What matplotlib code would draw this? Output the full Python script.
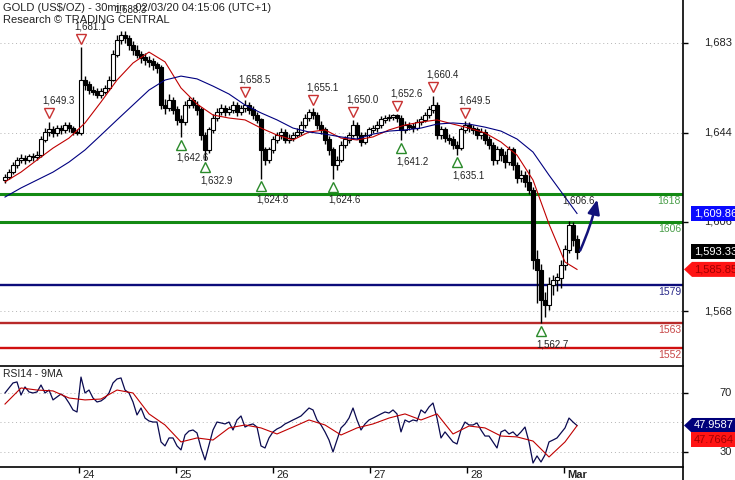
import numpy as np
import matplotlib.pyplot as plt
from matplotlib import transforms
from matplotlib.patches import Polygon, FancyArrowPatch
from matplotlib.lines import Line2D

plt.rcParams['font.family'] = ['Liberation Sans', 'DejaVu Sans']

W, H = 735, 480

# day axis with the weekend taken out: 29 stands for Mon 2 March
DAY0 = 23.2376          # first bar
BAR_DAYS = 4 / 97       # one bar on the compressed axis
OPEN_FIRST = 1624.0

closes = [1625.5, 1627.6, 1630.6, 1632.8, 1633.6, 1632.8, 1634.1, 1634.1, 1634.9, 1641.4, 1644.8, 1645.7,
          1644.4, 1646.5, 1645.7, 1647.8, 1646.5, 1644.8, 1644.4, 1667.1, 1665.0, 1662.8, 1662.0, 1660.7,
          1662.0, 1663.7, 1667.1, 1677.9, 1684.3, 1686.4, 1685.1, 1682.1, 1680.0, 1677.9, 1676.6, 1675.7,
          1674.9, 1673.6, 1672.3, 1656.4, 1655.1, 1658.5, 1654.3, 1650.0, 1649.1, 1656.4, 1658.5, 1656.4,
          1654.3, 1643.5, 1637.1, 1645.7, 1650.8, 1653.4, 1655.1, 1653.4, 1654.3, 1656.4, 1653.4, 1655.1,
          1656.0, 1654.3, 1652.1, 1650.0, 1637.1, 1632.8, 1637.1, 1641.4, 1643.5, 1644.8, 1641.4, 1642.2,
          1643.5, 1644.8, 1647.8, 1650.8, 1653.4, 1652.1, 1647.8, 1645.7, 1641.4, 1637.1, 1630.6, 1632.8,
          1639.2, 1641.4, 1643.5, 1647.8, 1643.5, 1640.5, 1643.5, 1645.7, 1646.5, 1647.8, 1650.0, 1650.8,
          1651.2, 1652.1, 1650.8, 1645.7, 1647.8, 1647.0, 1646.5, 1649.1, 1650.0, 1652.1, 1654.3, 1656.4,
          1643.5, 1645.7, 1642.2, 1641.4, 1639.2, 1638.0, 1645.7, 1647.8, 1646.5, 1645.7, 1643.5, 1644.8,
          1641.4, 1639.2, 1632.8, 1637.1, 1634.9, 1631.9, 1637.1, 1630.6, 1625.1, 1626.3, 1623.3, 1619.9,
          1589.9, 1585.6, 1572.7, 1570.6, 1579.2, 1581.3, 1582.2, 1587.7, 1594.2, 1604.9, 1598.5, 1593.33]

highs = [1627.0, 1629.0, 1632.0, 1634.0, 1635.5, 1635.0, 1635.5, 1636.0, 1636.5, 1643.0, 1646.5, 1649.3,
         1647.5, 1648.0, 1648.0, 1649.0, 1649.0, 1647.5, 1646.0, 1681.1, 1669.0, 1666.5, 1664.5, 1663.5,
         1663.5, 1665.0, 1669.0, 1680.0, 1686.5, 1688.3, 1688.0, 1686.5, 1684.0, 1682.0, 1679.5, 1678.5,
         1677.5, 1676.5, 1675.0, 1673.5, 1659.0, 1661.0, 1660.0, 1656.0, 1652.0, 1658.0, 1660.0, 1660.0,
         1658.0, 1655.5, 1645.0, 1647.0, 1652.5, 1655.0, 1657.0, 1656.5, 1656.0, 1658.0, 1657.5, 1656.5,
         1658.5, 1657.5, 1656.0, 1653.5, 1651.0, 1638.5, 1638.5, 1643.0, 1645.0, 1646.5, 1646.0, 1644.0,
         1645.0, 1646.5, 1649.5, 1652.5, 1654.5, 1655.1, 1653.5, 1649.5, 1647.0, 1643.0, 1638.5, 1634.5,
         1641.0, 1643.0, 1645.0, 1650.0, 1649.0, 1645.0, 1645.0, 1647.0, 1648.0, 1649.5, 1651.5, 1652.0,
         1652.5, 1652.5, 1652.6, 1652.0, 1649.5, 1649.0, 1648.5, 1650.5, 1651.5, 1653.5, 1656.0, 1660.4,
         1657.5, 1647.5, 1647.0, 1644.0, 1643.0, 1641.0, 1647.0, 1649.5, 1649.0, 1648.0, 1647.0, 1646.5,
         1646.0, 1643.0, 1640.5, 1639.0, 1638.5, 1636.5, 1639.0, 1638.5, 1632.0, 1628.5, 1628.0, 1629.0,
         1621.0, 1594.0, 1588.0, 1576.0, 1582.5, 1583.5, 1584.5, 1590.0, 1596.5, 1606.6, 1606.0, 1600.5]

lows = [1623.0, 1624.5, 1627.0, 1629.5, 1631.5, 1631.0, 1632.0, 1632.5, 1633.0, 1634.0, 1640.5, 1643.0,
        1642.5, 1643.0, 1644.0, 1644.5, 1645.0, 1643.5, 1643.5, 1643.5, 1663.0, 1661.0, 1660.5, 1659.5,
        1659.5, 1661.0, 1663.0, 1666.5, 1677.0, 1682.5, 1683.0, 1680.0, 1678.0, 1676.5, 1674.5, 1673.5,
        1672.5, 1671.5, 1670.0, 1654.5, 1652.5, 1654.0, 1652.5, 1648.0, 1642.6, 1648.0, 1655.0, 1655.0,
        1652.0, 1641.5, 1632.9, 1636.0, 1644.5, 1649.5, 1652.0, 1651.5, 1652.0, 1653.0, 1651.5, 1652.0,
        1653.5, 1652.5, 1650.5, 1648.5, 1624.8, 1630.5, 1631.5, 1636.0, 1640.0, 1642.0, 1640.0, 1640.0,
        1641.0, 1642.5, 1643.5, 1646.5, 1649.5, 1650.5, 1646.0, 1644.0, 1639.5, 1635.0, 1624.6, 1628.5,
        1632.0, 1638.0, 1640.0, 1642.5, 1642.0, 1639.0, 1639.5, 1642.5, 1644.5, 1645.0, 1646.5, 1648.5,
        1649.5, 1650.0, 1649.0, 1641.2, 1644.5, 1645.5, 1645.0, 1645.5, 1648.0, 1649.0, 1651.0, 1653.0,
        1642.0, 1642.0, 1640.5, 1639.5, 1637.5, 1635.1, 1637.0, 1644.5, 1645.0, 1644.0, 1642.0, 1642.0,
        1639.5, 1637.5, 1630.5, 1631.0, 1632.5, 1629.5, 1630.5, 1628.5, 1623.0, 1623.5, 1621.0, 1618.0,
        1586.0, 1571.4, 1562.7, 1565.5, 1568.5, 1575.0, 1576.5, 1578.0, 1585.5, 1593.0, 1596.0, 1590.5]

# moving averages read every 4th bar, plus the last bar
MA_EVERY = 4
red_ma = [1623.4, 1627.6, 1632.8, 1637.9, 1642.2, 1648.7, 1657.7, 1667.1, 1674.4, 1679.1,
          1674.9, 1663.7, 1656.8, 1652.1, 1650.8, 1650.0, 1646.5, 1643.5, 1641.4, 1644.8,
          1645.7, 1642.2, 1641.4, 1642.7, 1645.7, 1647.8, 1649.1, 1650.0, 1648.2, 1646.5,
          1644.4, 1640.5, 1634.9, 1624.2, 1605.3, 1589.0, 1585.85]
blue_ma = [1616.9, 1620.8, 1624.2, 1627.6, 1631.9, 1637.1, 1643.5, 1650.0, 1656.4, 1662.8,
           1667.1, 1668.8, 1667.6, 1664.5, 1661.1, 1656.4, 1653.0, 1650.0, 1646.5, 1644.8,
           1643.9, 1642.7, 1641.8, 1643.9, 1645.2, 1645.7, 1646.5, 1648.2, 1648.7, 1648.2,
           1646.9, 1645.2, 1641.8, 1636.2, 1626.3, 1616.9, 1609.86]

rsi = [70.0, 73.4, 76.8, 77.5, 68.6, 74.1, 70.7, 70.0, 70.7, 75.4, 70.0, 72.0,
       65.3, 67.3, 69.3, 67.3, 63.2, 58.5, 57.1, 80.8, 70.0, 72.0, 66.6, 63.9,
       64.6, 66.6, 70.0, 76.8, 79.5, 80.2, 72.0, 70.0, 63.9, 55.1, 59.8, 53.0,
       51.0, 50.3, 50.3, 36.8, 34.1, 39.5, 39.5, 34.1, 31.4, 41.5, 44.2, 44.9,
       42.9, 32.7, 24.6, 34.7, 44.9, 50.3, 49.7, 49.0, 50.3, 44.9, 51.7, 54.4,
       46.9, 48.3, 49.0, 46.9, 34.1, 32.7, 39.5, 43.6, 45.6, 46.9, 49.0, 50.3,
       51.7, 53.0, 54.4, 57.1, 59.8, 58.5, 51.7, 48.3, 43.6, 38.1, 30.0, 38.1,
       46.3, 49.0, 53.0, 59.8, 51.7, 44.9, 49.0, 51.7, 53.0, 54.4, 55.8, 57.1,
       56.4, 58.5, 55.8, 43.6, 51.7, 50.3, 51.7, 51.0, 58.5, 56.4, 60.5, 63.2,
       53.0, 39.5, 43.6, 40.2, 36.8, 35.4, 44.9, 50.3, 48.3, 48.3, 49.7, 44.9,
       40.8, 40.8, 36.8, 32.7, 43.6, 44.9, 42.2, 43.6, 40.8, 43.6, 46.9, 36.8,
       22.5, 27.3, 23.2, 28.0, 36.8, 38.1, 39.5, 42.9, 46.3, 53.0, 50.3, 47.9587]
rsi_ma = [62.5, 73.4, 72.0, 71.4, 66.6, 65.3, 65.9, 72.0, 70.0, 55.8,
          48.3, 36.8, 39.5, 38.1, 46.3, 48.3, 46.3, 42.2, 46.9, 51.7,
          48.3, 41.5, 46.3, 49.0, 53.0, 55.8, 51.7, 55.8, 42.2, 47.6,
          46.3, 40.8, 40.2, 37.4, 26.6, 36.8, 47.7664]

# swing highs / lows that carry a label (bar index)
peak_bars = [11, 19, 29, 60, 77, 87, 98, 107, 115, 141]
peak_no_marker = [29, 141]
trough_bars = [44, 50, 64, 82, 99, 113, 134]

levels = [1618, 1606, 1579, 1563, 1552]
level_colors = ['#138a13', '#138a13', '#0c0c7a', '#b82a2a', '#d01010']
level_text_colors = ['#4a9e4a', '#4a9e4a', '#2a2a8a', '#c84848', '#c84848']
level_widths = [2.2, 2.2, 1.7, 1.7, 1.7]

price_ticks = [1568.0, 1606.3, 1644.5, 1683.0]
price_tick_labels = ['1,568', '1,606', '1,644', '1,683']
rsi_ticks = [30, 70]
rsi_grid = [30, 50, 70]
day_ticks = [24, 25, 26, 27, 28, 29]
day_labels = ['24', '25', '26', '27', '28', 'Mar']

FORECAST_DAYS = 0.215
FORECAST_TARGET = 1617.0

# ---------------------------------------------------------------
fig = plt.figure(figsize=(W / 100, H / 100), dpi=100)
ax = fig.add_axes([0, 1 - 366 / H, 683 / W, 366 / H])
ar = fig.add_axes([0, 1 - 467 / H, 683 / W, 101 / H])

XMIN = 23.186
XMAX = XMIN + 683 / 97
for a in (ax, ar):
    a.set_xlim(XMIN, XMAX)
    a.spines['left'].set_visible(False)
    a.spines['right'].set_visible(False)
    a.set_facecolor('white')
ax.set_ylim(1544.4, 1701.45)
ar.set_ylim(19.8, 88.3)
ax.spines['top'].set_visible(False)
ax.spines['bottom'].set_visible(False)
ar.spines['top'].set_linewidth(1.2)
ar.spines['bottom'].set_linewidth(1.2)
ax.set_xticks([])

t = DAY0 + np.arange(len(closes)) * BAR_DAYS
c = np.array(closes)
o = np.array([OPEN_FIRST] + closes[:-1])
up = c >= o
ma_idx = list(range(0, len(closes), MA_EVERY)) + [len(closes) - 1]

# grid
for p in price_ticks:
    ax.axhline(p, color='#b4b4b4', lw=0.7, ls=(0, (1, 3)), zorder=1)
for v in rsi_grid:
    ar.axhline(v, color='#b4b4b4', lw=0.7, ls=(0, (1, 3)), zorder=1)

# support / resistance levels
for lv, col, tc, lw in zip(levels, level_colors, level_text_colors, level_widths):
    ax.axhline(lv, color=col, lw=lw, zorder=2)
    tr = transforms.offset_copy(ax.get_yaxis_transform(), fig=fig, y=-5, units='points')
    ax.text(681 / 683, lv, str(lv), transform=tr, ha='right', va='center',
            color=tc, fontsize=7.5)

# candles
bw = BAR_DAYS * 0.78
ax.vlines(t, lows, highs, color='black', lw=1.0, zorder=3)
ax.bar(t[up], (c - o)[up] + 0.2, bottom=o[up], width=bw, color='white',
       edgecolor='black', lw=0.8, zorder=4)
ax.bar(t[~up], (o - c)[~up] + 0.2, bottom=c[~up], width=bw, color='black',
       edgecolor='black', lw=0.8, zorder=4)

# moving averages
ax.plot(t[ma_idx], red_ma, color='#c00000', lw=0.8, zorder=5)
ax.plot(t[ma_idx], blue_ma, color='#000080', lw=0.8, zorder=5)

# swing markers and labels
tri_up = transforms.offset_copy(ax.transData, fig=fig, y=6, units='points')
lab_up = transforms.offset_copy(ax.transData, fig=fig, x=7, y=15, units='points')
tri_dn = transforms.offset_copy(ax.transData, fig=fig, y=-5.5, units='points')
lab_dn = transforms.offset_copy(ax.transData, fig=fig, x=8.5, y=-15, units='points')
for i in peak_bars:
    if i not in peak_no_marker:
        ax.plot(t[i], highs[i], marker='v', ms=6.5, mfc='white', mec='#c83232',
                mew=1.0, transform=tri_up, zorder=6, clip_on=False)
    ax.text(t[i], highs[i], f'{highs[i]:,.1f}', transform=lab_up, ha='center',
            va='center', fontsize=7, color='#222222', zorder=7, clip_on=False)
for i in trough_bars:
    ax.plot(t[i], lows[i], marker='^', ms=6.5, mfc='white', mec='#2a8a2a',
            mew=1.0, transform=tri_dn, zorder=6)
    ax.text(t[i], lows[i], f'{lows[i]:,.1f}', transform=lab_dn, ha='center',
            va='center', fontsize=7, color='#222222', zorder=7)

# forecast arrow
arrow = FancyArrowPatch((t[-1] + 2 / 97, closes[-1] - 0.5),
                        (t[-1] + FORECAST_DAYS, FORECAST_TARGET),
                        arrowstyle='-|>,head_length=0.95,head_width=0.4',
                        mutation_scale=9, color='#12127a', lw=1.8,
                        connectionstyle='arc3,rad=0.05', zorder=8)
ax.add_patch(arrow)

# RSI panel
ar.plot(t, rsi, color='#0a0a50', lw=0.9, zorder=3)
ar.plot(t[ma_idx], rsi_ma, color='#c00000', lw=0.8, zorder=4)
ar.text(3 / 683, 1 - 8 / 101, 'RSI14 - 9MA', transform=ar.transAxes,
        ha='left', va='center', fontsize=7.5, color='#222222')

# y ticks on the right
ax.yaxis.tick_right()
ax.set_yticks(price_ticks)
ax.tick_params(axis='y', length=3.6, width=1, direction='out', labelright=False)
ar.yaxis.tick_right()
ar.set_yticks(rsi_ticks)
ar.tick_params(axis='y', length=3.6, width=1, direction='out', labelright=False)
for p, lab in zip(price_ticks, price_tick_labels):
    ax.text(732 / 683, p, lab, transform=ax.get_yaxis_transform(), ha='right',
            va='center', fontsize=8, color='#222222', clip_on=False)
for v in rsi_ticks:
    ar.text(732 / 683, v, str(v), transform=ar.get_yaxis_transform(), ha='right',
            va='center', fontsize=8, color='#222222', clip_on=False)

# date axis
ar.set_xticks(day_ticks)
ar.tick_params(axis='x', length=4, width=1, direction='out', labelbottom=False)
date_tr = transforms.blended_transform_factory(ar.transData, ar.transAxes)
for d, lab in zip(day_ticks, day_labels):
    ar.text(d + 3 / 97, -8 / 101, lab, transform=date_tr, ha='left', va='center',
            fontsize=8, color='#222222', fontweight='bold' if lab == 'Mar' else 'normal')

# full-height right border
fig.add_artist(Line2D([683 / W, 683 / W], [0, 1], transform=fig.transFigure,
                      color='black', lw=1.2))


# value tags on the right edge
def tag(axis, value, text, face, tcolor, pointed, dy=0):
    yp = axis.transData.transform((XMIN, value))[1] + dy
    h = 7.5
    if pointed:
        pts = [(684, yp), (692, yp + h), (740, yp + h), (740, yp - h), (692, yp - h)]
    else:
        pts = [(691, yp + h), (740, yp + h), (740, yp - h), (691, yp - h)]
    pts = [(x / W, y / H) for x, y in pts]
    fig.add_artist(Polygon(pts, closed=True, transform=fig.transFigure,
                           facecolor=face, edgecolor='none', zorder=5))
    fig.text(694 / W, yp / H, text, ha='left', va='center', fontsize=8,
             color=tcolor, zorder=6)


tag(ax, blue_ma[-1], f'{blue_ma[-1]:,.2f}', '#0a0aff', 'white', False)
tag(ax, closes[-1], f'{closes[-1]:,.2f}', 'black', 'white', False)
tag(ax, red_ma[-1], f'{red_ma[-1]:,.2f}', '#ff1414', '#a00000', True)
tag(ar, rsi[-1], f'{rsi[-1]:.4f}', '#00007a', 'white', True)
tag(ar, rsi_ma[-1], f'{rsi_ma[-1]:.4f}', '#ff1414', '#a00000', False, dy=-14)

# header
fig.text(3 / W, 1 - 8 / H, 'GOLD (US$/OZ) - 30min - 02/03/20 04:15:06 (UTC+1)',
         ha='left', va='center', fontsize=8, color='#222222')
fig.text(3 / W, 1 - 20 / H, 'Research \u00a9 TRADING CENTRAL', ha='left',
         va='center', fontsize=8, color='#222222')

fig.savefig('out.png', dpi=100)
